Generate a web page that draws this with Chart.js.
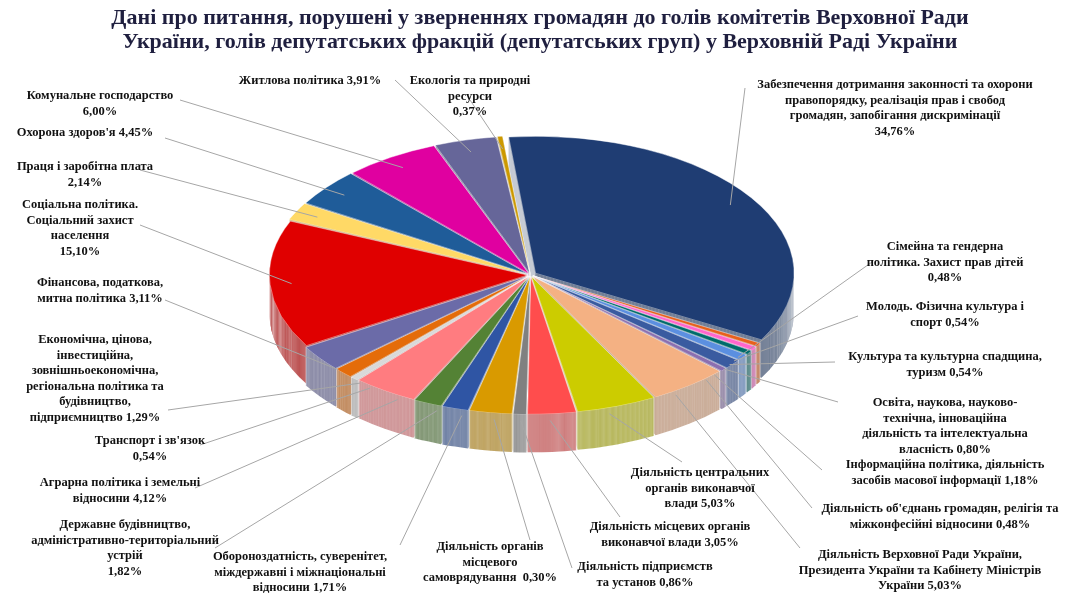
<!DOCTYPE html>
<html><head><meta charset="utf-8">
<script src="https://cdn.jsdelivr.net/npm/chart.js@4"></script>
<style>body{margin:0;background:#fff}</style></head>
<body><canvas id="c" width="1071" height="600"></canvas>
<script>
const categories = [
"Забезпечення дотримання законності та охорони|правопорядку, реалізація прав і свобод|громадян, запобігання дискримінації",
"Сімейна та гендерна|політика. Захист прав дітей",
"Молодь. Фізична культура і|спорт",
"Культура та культурна спадщина,|туризм",
"Освіта, наукова, науково-|технічна, інноваційна|діяльність та інтелектуальна|власність",
"Інформаційна політика, діяльність|засобів масової інформації",
"Діяльність об'єднань громадян, релігія та|міжконфесійні відносини",
"Діяльність Верховної Ради України,|Президента України та Кабінету Міністрів|України",
"Діяльність центральних|органів виконавчої|влади",
"Діяльність місцевих органів|виконавчої влади",
"Діяльність підприємств|та установ",
"Діяльність органів|місцевого|самоврядування ",
"Обороноздатність, суверенітет,|міждержавні і міжнаціональні|відносини",
"Державне будівництво,|адміністративно-територіальний|устрій",
"Аграрна політика і земельні|відносини",
"Транспорт і зв'язок",
"Економічна, цінова,|інвестиційна,|зовнішньоекономічна,|регіональна політика та|будівництво,|підприємництво",
"Фінансова, податкова,|митна політика",
"Соціальна політика.|Соціальний захист|населення",
"Праця і заробітна плата",
"Охорона здоров'я",
"Комунальне господарство",
"Житлова політика",
"Екологія та природні|ресурси"];
const percentLabels = ["34,76%","0,48%","0,54%","0,54%","0,80%","1,18%","0,48%","5,03%","5,03%","3,05%","0,86%","0,30%","1,71%","1,82%","4,12%","0,54%","1,29%","3,11%","15,10%","2,14%","4,45%","6,00%","3,91%","0,37%"];
const values = [34.76,0.48,0.54,0.54,0.80,1.18,0.48,5.03,5.03,3.05,0.86,2.70,1.71,1.82,4.12,0.54,1.29,3.11,15.10,2.14,4.45,6.00,3.91,0.37];
const colors = ["#1F3D73","#E8601C","#FF66CC","#006B6B","#5B8FE0","#3A5BA0","#8B6FB0","#F4B183","#CCCC00","#FF4D4D","#808080","#D99A00","#2F55A4","#548235","#FF7C80","#D9D9D9","#E46C0A","#6B6BA8","#E00000","#FFD966","#1F5C99","#E000A0","#666699","#CC9900"];
// label layout: text centre x, first line y, leader start x,y, percent appended to last line
const labelLayout = [
[895,78,745,88,0],[945,240,872,262,0],[945,300,858,316,1],[945,350,835,362,1],[945,396,838,402,1],
[945,458,822,470,1],[940,502,812,508,1],[920,548,800,548,1],[700,466,682,462,1],[670,520,620,517,1],
[645,560,572,568,1],[490,540,530,540,1],[300,550,400,545,1],[125,518,215,548,0],[120,476,195,488,1],
[150,434,200,445,0],[95,333,168,410,1],[100,276,165,300,1],[80,198,140,225,0],[85,160,140,170,0],
[85,126,165,138,1],[100,89,180,100,0],[310,74,395,80,1],[470,74,470,100,0]];

const K = 0.53, TARGET_CY = 275, DEPTH = 38, LH = 15.5;
function darken(hex,f){const n=parseInt(hex.slice(1),16);const r=(n>>16)&255,g=(n>>8)&255,b=n&255;return `rgb(${r*f|0},${g*f|0},${b*f|0})`;}
const pie3d = {
 id:'pie3d',
 beforeDatasetsDraw(chart){
  const ctx=chart.ctx, meta=chart.getDatasetMeta(0), a0=meta.data[0];
  const cx=a0.x, cy=a0.y;
  ctx.save();
  ctx.translate(cx,TARGET_CY); ctx.scale(1,K); ctx.translate(-cx,-cy);
  for(let d=DEPTH; d>=1; d--){
   meta.data.forEach((a,i)=>{
     const bg=a.options.backgroundColor;
     a.options.backgroundColor=darken(colors[i],0.7);
     ctx.save(); ctx.translate(0,d/K); a.draw(ctx); ctx.restore();
     a.options.backgroundColor=bg;
   });
  }
 },
 afterDatasetsDraw(chart){
  const ctx=chart.ctx; ctx.restore();
  const meta=chart.getDatasetMeta(0);
  ctx.save();
  ctx.fillStyle='#1F1F3F'; ctx.textAlign='center';
  ctx.font='bold 22px "Liberation Serif"';
  ctx.fillText("Дані про питання, порушені у зверненнях громадян до голів комітетів Верховної Ради",540,24);
  ctx.fillText("України, голів депутатських фракцій (депутатських груп) у Верховній Раді України",540,48);
  ctx.font='bold 12.5px "Liberation Serif"';
  meta.data.forEach((a,i)=>{
    const L=labelLayout[i];
    const mid=(a.startAngle+a.endAngle)/2, r=a.outerRadius*0.93;
    const px=a.x+r*Math.cos(mid), py=TARGET_CY+r*Math.sin(mid)*K + (Math.sin(mid)>0.3?DEPTH*0.5:0);
    ctx.strokeStyle='#A6A6A6'; ctx.lineWidth=1;
    ctx.beginPath(); ctx.moveTo(L[2],L[3]); ctx.lineTo(px,py); ctx.stroke();
    const lines=categories[i].split('|');
    if(L[4]) lines[lines.length-1]+=' '+percentLabels[i]; else lines.push(percentLabels[i]);
    ctx.fillStyle='#111';
    lines.forEach((t,j)=>ctx.fillText(t,L[0],L[1]+j*LH+10));
  });
  ctx.restore();
 }
};
new Chart(document.getElementById('c'),{
 type:'pie',
 data:{labels:categories.map(c=>c.replace(/\|/g,' ')),datasets:[{data:values,backgroundColor:colors,borderWidth:1,borderColor:'rgba(255,255,255,0.6)',
   offset:values.map((v,i)=>i===0?24:12)}]},
 options:{responsive:false,devicePixelRatio:1,animation:false,rotation:-6,
  layout:{padding:{top:30,bottom:30,left:0,right:10}},
  plugins:{legend:{display:false},tooltip:{enabled:false}}},
 plugins:[pie3d]
});
</script></body></html>
